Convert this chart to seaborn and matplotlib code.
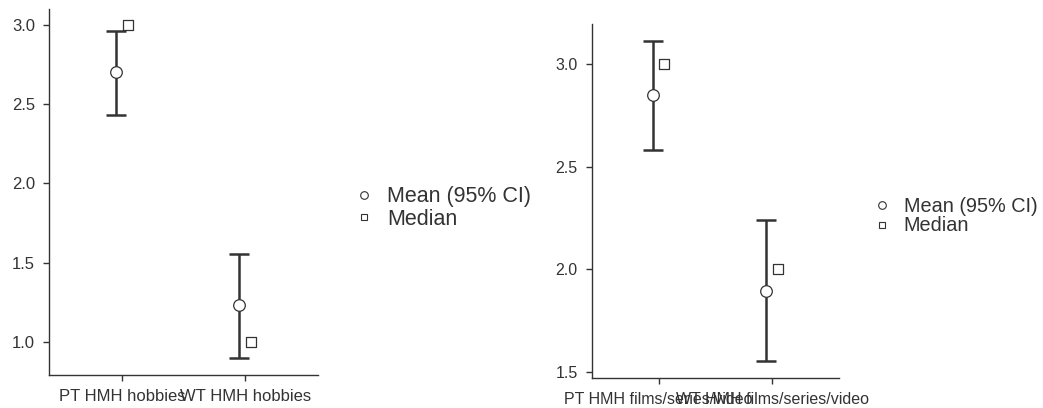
import numpy as np
import pandas as pd
import seaborn as sns
import matplotlib
matplotlib.use("Agg")
import matplotlib.pyplot as plt
from matplotlib.lines import Line2D

# ---- data ----
cats_left = ["PT HMH hobbies", "WT HMH hobbies"]
mean_left = [2.70, 1.23]
lo_left = [2.43, 0.90]
hi_left = [2.96, 1.555]
median_left = [3.0, 1.0]

cats_right = ["PT HMH films/series/video", "WT HMH films/series/video"]
mean_right = [2.85, 1.895]
lo_right = [2.58, 1.55]
hi_right = [3.115, 2.24]
median_right = [3.0, 2.0]

legend_labels = ["Mean (95% CI)", "Median"]

sns.set_theme(style="ticks")
plt.rcParams["font.family"] = ["Liberation Sans", "DejaVu Sans"]

DARK = "#333333"
fig = plt.figure(figsize=(10.43, 4.08), dpi=100)


def panel(rect, cats, means, los, his, medians, ylim, yticks, fs_tick, leg_xy, fs_leg):
    ax = fig.add_axes(rect)
    pos = np.arange(len(cats))
    off = 0.05
    df = pd.DataFrame({"x": pos - off, "mean": means, "lo": los, "hi": his})
    dm = pd.DataFrame({"x": pos + off, "median": medians})
    ax.errorbar(df["x"], df["mean"],
                yerr=[df["mean"] - df["lo"], df["hi"] - df["mean"]],
                fmt="none", ecolor=DARK, elinewidth=1.8, capsize=7, capthick=1.8, zorder=2)
    sns.scatterplot(data=df, x="x", y="mean", ax=ax, marker="o", s=70,
                    facecolor="white", edgecolor=DARK, linewidth=0.9, zorder=3, legend=False)
    sns.scatterplot(data=dm, x="x", y="median", ax=ax, marker="s", s=55,
                    facecolor="white", edgecolor=DARK, linewidth=0.9, zorder=3, legend=False)
    ax.set_xlim(-0.59, 1.59)
    ax.set_ylim(*ylim)
    ax.set_xticks(pos)
    ax.set_xticklabels(cats)
    ax.set_yticks(yticks)
    ax.set_yticklabels([f"{v:.1f}" for v in yticks])
    ax.set_xlabel("")
    ax.set_ylabel("")
    for s in ["top", "right"]:
        ax.spines[s].set_visible(False)
    for s in ["left", "bottom"]:
        ax.spines[s].set_color(DARK)
        ax.spines[s].set_linewidth(1.0)
    ax.tick_params(axis="both", colors=DARK, labelcolor=DARK, labelsize=fs_tick,
                   length=4, width=1.0, direction="out")
    ax.tick_params(axis="x", pad=6)
    ax.tick_params(axis="y", pad=6)
    handles = [
        Line2D([], [], marker="o", linestyle="none", markersize=5.5,
               markerfacecolor="white", markeredgecolor=DARK, markeredgewidth=0.8),
        Line2D([], [], marker="s", linestyle="none", markersize=5,
               markerfacecolor="white", markeredgecolor=DARK, markeredgewidth=0.8),
    ]
    leg = ax.legend(handles, legend_labels, loc="center left", bbox_to_anchor=leg_xy,
                    bbox_transform=fig.transFigure, frameon=False, fontsize=fs_leg,
                    borderpad=0, borderaxespad=0, handlelength=1.0, handletextpad=0.6,
                    labelspacing=0.05)
    for t in leg.get_texts():
        t.set_color(DARK)
    return ax


panel([49 / 1043, 33 / 408, 269 / 1043, 366 / 408], cats_left, mean_left, lo_left, hi_left,
      median_left, (0.79, 3.10), [1.0, 1.5, 2.0, 2.5, 3.0], 12, (353 / 1043, 1 - 208 / 408), 15.5)
panel([591.7 / 1043, 30.3 / 408, 247.3 / 1043, 353.7 / 408], cats_right, mean_right, lo_right,
      hi_right, median_right, (1.47, 3.197), [1.5, 2.0, 2.5, 3.0], 11.5,
      (872 / 1043, 1 - 216 / 408), 14.3)

fig.savefig("out.png", dpi=100, facecolor="white")
